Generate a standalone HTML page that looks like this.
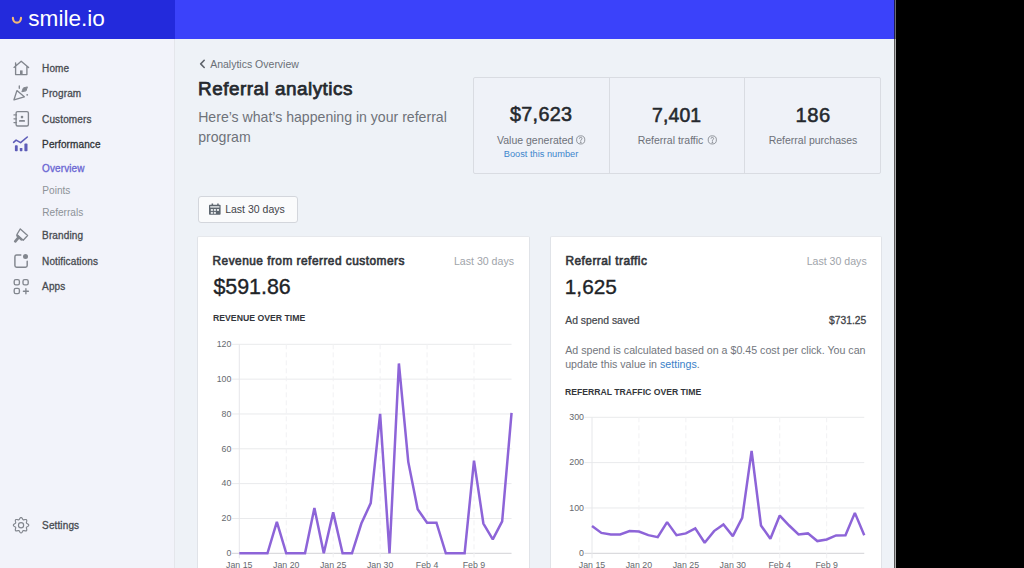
<!DOCTYPE html><html><head><meta charset="utf-8"><style>
html,body{margin:0;padding:0;}
body{width:1024px;height:568px;overflow:hidden;position:relative;background:#000;font-family:"Liberation Sans",sans-serif;}
.t{position:absolute;line-height:1;white-space:nowrap;}
.abs{position:absolute;}
</style></head><body>
<div class="abs" style="left:0;top:0;width:894px;height:568px;background:#eef2f7"></div>
<div class="abs" style="left:0;top:0;width:174px;height:568px;background:#f2f3fa;border-right:1px solid #e4e6eb"></div>
<div class="abs" style="left:0;top:0;width:175px;height:39px;background:#232adc"></div>
<div class="abs" style="left:175px;top:0;width:719px;height:39px;background:#3b42fa"></div>
<div class="abs" style="left:894px;top:0;width:1px;height:568px;background:#5a5a5a"></div><div class="abs" style="left:895px;top:0;width:1px;height:568px;background:#b0b0b0"></div><div class="abs" style="left:894px;top:0;width:1px;height:39px;background:#1c1c55"></div><div class="abs" style="left:895px;top:0;width:1px;height:39px;background:#6a6a6a"></div>
<svg class="abs" style="left:0;top:0" width="40" height="39"><path d="M12.9 17.9 A4.05 4.7 0 0 0 21 17.9" stroke="#f2b978" stroke-width="2.2" fill="none" stroke-linecap="round"/></svg>
<div class="t" style="top:8.07px;font-size:22.6px;color:#fff;font-weight:400;left:28.30px;">smile.io</div>
<div class="t" style="top:63.73px;font-size:10px;color:#484b51;font-weight:400;left:42.10px;letter-spacing:0.12px;-webkit-text-stroke:0.3px #484b51;">Home</div>
<div class="t" style="top:88.83px;font-size:10px;color:#484b51;font-weight:400;left:42.10px;letter-spacing:0.12px;-webkit-text-stroke:0.3px #484b51;">Program</div>
<div class="t" style="top:114.63px;font-size:10px;color:#484b51;font-weight:400;left:42.10px;letter-spacing:0.12px;-webkit-text-stroke:0.3px #484b51;">Customers</div>
<div class="t" style="top:140.23px;font-size:10px;color:#303338;font-weight:400;left:42.10px;letter-spacing:0.12px;-webkit-text-stroke:0.3px #303338;">Performance</div>
<div class="t" style="top:231.44px;font-size:10px;color:#484b51;font-weight:400;left:42.10px;letter-spacing:0.12px;-webkit-text-stroke:0.3px #484b51;">Branding</div>
<div class="t" style="top:256.83px;font-size:10px;color:#484b51;font-weight:400;left:42.10px;letter-spacing:0.12px;-webkit-text-stroke:0.3px #484b51;">Notifications</div>
<div class="t" style="top:282.13px;font-size:10px;color:#484b51;font-weight:400;left:42.10px;letter-spacing:0.12px;-webkit-text-stroke:0.3px #484b51;">Apps</div>
<div class="t" style="top:521.14px;font-size:10px;color:#484b51;font-weight:400;left:42.10px;letter-spacing:0.12px;-webkit-text-stroke:0.3px #484b51;">Settings</div>
<div class="t" style="top:163.94px;font-size:10px;color:#6a66d3;font-weight:400;left:42.10px;letter-spacing:0.1px;-webkit-text-stroke:0.3px #6a66d3;">Overview</div>
<div class="t" style="top:185.75px;font-size:10.1px;color:#8d9298;font-weight:400;left:42.30px;">Points</div>
<div class="t" style="top:207.85px;font-size:10.1px;color:#8d9298;font-weight:400;left:42.30px;">Referrals</div>
<svg class="abs" style="left:0;top:0" width="174" height="568" fill="none" stroke="#82868e" stroke-width="1.35" stroke-linejoin="round" stroke-linecap="round">
<path d="M14 67.4 L21.2 61.2 L28.6 67.6 M15.6 66.2 V74.6 H26.9 V66.2 M15.6 62.8 V65.6"/><rect x="20" y="70.4" width="2.6" height="4.4" fill="#82868e" stroke="none"/>
<path d="M14 99.8 L16.9 90.6 L24.3 96.8 Z"/><path d="M19.3 85.9 V88.3"/><path d="M22 91.4 L23.4 87.9 L27.4 86.9 L26.2 90.5 Z" fill="#82868e" stroke-width="1"/><circle cx="27.2" cy="94.8" r="0.9" fill="#82868e" stroke="none"/>
<rect x="16.1" y="111.6" width="12.3" height="14.4" rx="1.5"/><path d="M14 114.9 H16.4 M14 118.8 H16.4 M14 122.6 H16.4"/><circle cx="22" cy="117.1" r="1.3" fill="#82868e" stroke="none"/><path d="M19.8 120.9 H24.2" stroke-width="1.7"/>
<path d="M13.6 142.3 L16.1 140.1 L20.6 142.6 L27.3 137" stroke="#5e5cb8" stroke-width="1.6"/>
<rect x="14.9" y="145.3" width="2.8" height="6" rx="0.8" fill="#5e5cb8" stroke="none"/><rect x="19.8" y="148" width="2.6" height="3.2" rx="0.6" fill="#5e5cb8" stroke="none"/><rect x="24.4" y="143.6" width="3.1" height="7.6" rx="0.8" fill="#5e5cb8" stroke="none"/>
<path d="M20.3 228.9 L27.6 235.5 L23.2 240.2 L16.9 234.5 Z" stroke-width="1.3"/><path d="M17.2 235.8 L21.5 239.6" stroke-width="2.2"/><path d="M18 238.2 L15.3 241.3" stroke-width="2.8"/>
<path d="M20.8 255 H16.6 Q14.9 255 14.9 256.7 V265.6 Q14.9 267.3 16.6 267.3 H25.5 Q27.2 267.3 27.2 265.6 V261.2" stroke-width="1.45"/><circle cx="25.5" cy="256.6" r="2.5" fill="#82868e" stroke="none"/>
<rect x="14.2" y="279.6" width="5.2" height="5.2" rx="1.6"/><rect x="23" y="279.6" width="5.2" height="5.2" rx="1.6"/><rect x="14.2" y="288.4" width="5.2" height="5.2" rx="1.6"/><path d="M25.9 288.7 V293.7 M23.4 291.2 H28.4"/>
<path d="M21.05 517.50 L21.55 517.64 L21.99 518.04 L22.37 518.58 L22.67 519.14 L22.96 519.59 L23.27 519.84 L23.67 519.88 L24.19 519.77 L24.80 519.59 L25.45 519.47 L26.04 519.51 L26.49 519.76 L26.74 520.21 L26.78 520.80 L26.66 521.45 L26.48 522.06 L26.37 522.58 L26.41 522.98 L26.66 523.29 L27.11 523.58 L27.67 523.88 L28.21 524.26 L28.61 524.70 L28.75 525.20 L28.61 525.70 L28.21 526.14 L27.67 526.52 L27.11 526.82 L26.66 527.11 L26.41 527.42 L26.37 527.82 L26.48 528.34 L26.66 528.95 L26.78 529.60 L26.74 530.19 L26.49 530.64 L26.04 530.89 L25.45 530.93 L24.80 530.81 L24.19 530.63 L23.67 530.52 L23.27 530.56 L22.96 530.81 L22.67 531.26 L22.37 531.82 L21.99 532.36 L21.55 532.76 L21.05 532.90 L20.55 532.76 L20.11 532.36 L19.73 531.82 L19.43 531.26 L19.14 530.81 L18.83 530.56 L18.43 530.52 L17.91 530.63 L17.30 530.81 L16.65 530.93 L16.06 530.89 L15.61 530.64 L15.36 530.19 L15.32 529.60 L15.44 528.95 L15.62 528.34 L15.73 527.82 L15.69 527.42 L15.44 527.11 L14.99 526.82 L14.43 526.52 L13.89 526.14 L13.49 525.70 L13.35 525.20 L13.49 524.70 L13.89 524.26 L14.43 523.88 L14.99 523.58 L15.44 523.29 L15.69 522.98 L15.73 522.58 L15.62 522.06 L15.44 521.45 L15.32 520.80 L15.36 520.21 L15.61 519.76 L16.06 519.51 L16.65 519.47 L17.30 519.59 L17.91 519.77 L18.43 519.88 L18.83 519.84 L19.14 519.59 L19.43 519.14 L19.73 518.58 L20.11 518.04 L20.55 517.64 L21.05 517.50 Z" stroke-width="1.15"/><circle cx="21.05" cy="525.2" r="2.6" stroke-width="1.15"/>
</svg>
<svg class="abs" style="left:0;top:0" width="220" height="80"><path d="M204.2 60.3 L200.7 63.9 L204.2 67.5" stroke="#5f646c" stroke-width="1.6" fill="none" stroke-linecap="round" stroke-linejoin="round"/></svg>
<div class="t" style="top:59.01px;font-size:10.5px;color:#6a6f76;font-weight:400;left:210.20px;">Analytics Overview</div>
<div class="t" style="top:79.60px;font-size:18.9px;color:#25292e;font-weight:400;left:198.00px;-webkit-text-stroke:0.75px #25292e;letter-spacing:0.5px;">Referral analytics</div>
<div class="t" style="left:198.2px;top:106.8px;font-size:14.1px;line-height:20.5px;color:#6f737a;white-space:normal;width:270px">Here’s what’s happening in your referral program</div>
<div class="abs" style="left:473px;top:77px;width:406px;height:95px;border:1px solid #d9dce2;background:#eff2f8;border-radius:2px"></div>
<div class="abs" style="left:608.5px;top:78px;width:1px;height:95px;background:#d9dce2"></div>
<div class="abs" style="left:744px;top:78px;width:1px;height:95px;background:#d9dce2"></div>
<div class="t" style="top:105.44px;font-size:19.8px;color:#25292e;font-weight:400;left:341.15px;width:400px;text-align:center;-webkit-text-stroke:0.55px #25292e;letter-spacing:0.3px;">$7,623</div>
<div class="t" style="top:105.78px;font-size:19.4px;color:#25292e;font-weight:400;left:476.68px;width:400px;text-align:center;-webkit-text-stroke:0.55px #25292e;letter-spacing:0.15px;">7,401</div>
<div class="t" style="top:105.10px;font-size:20.2px;color:#25292e;font-weight:400;left:613.05px;width:400px;text-align:center;-webkit-text-stroke:0.55px #25292e;letter-spacing:0.5px;">186</div>
<div class="t" style="top:134.71px;font-size:10.5px;color:#6d7178;font-weight:400;left:335.20px;width:400px;text-align:center;">Value generated</div>
<div class="t" style="top:134.71px;font-size:10.5px;color:#6d7178;font-weight:400;left:470.50px;width:400px;text-align:center;">Referral traffic</div>
<div class="t" style="top:134.71px;font-size:10.5px;color:#6d7178;font-weight:400;left:613.00px;width:400px;text-align:center;">Referral purchases</div>
<svg class="abs" style="left:0;top:0" width="900" height="160" fill="none" stroke="#878b92" stroke-width="0.9"><circle cx="580.7" cy="139.9" r="4.1"/><circle cx="712.3" cy="139.9" r="4.1"/><path d="M579.4 138.7 Q579.4 137.4 580.7 137.4 Q582 137.4 582 138.6 Q582 139.5 580.8 140 V140.8 M711 138.7 Q711 137.4 712.3 137.4 Q713.6 137.4 713.6 138.6 Q713.6 139.5 712.4 140 V140.8"/><circle cx="580.8" cy="142.2" r="0.45" fill="#878b92"/><circle cx="712.4" cy="142.2" r="0.45" fill="#878b92"/></svg>
<div class="t" style="top:149.77px;font-size:9.25px;color:#3d85cc;font-weight:400;left:341.00px;width:400px;text-align:center;">Boost this number</div>
<div class="abs" style="left:198px;top:196px;width:98px;height:25px;border:1px solid #d3d6dc;background:#fafbfc;border-radius:3px"></div>
<svg class="abs" style="left:0;top:0" width="300" height="230"><rect x="209" y="204.7" width="11.6" height="10.1" rx="0.8" fill="#5e6770"/><rect x="211.6" y="203.5" width="1.5" height="1.8" fill="#5e6770"/><rect x="217.2" y="203.5" width="1.5" height="1.8" fill="#5e6770"/><g fill="#e6e9ec"><rect x="210.2" y="206.2" width="9.2" height="1.4"/><rect x="210.8" y="209" width="2.1" height="1.9"/><rect x="213.8" y="209" width="2.1" height="1.9"/><rect x="216.9" y="209" width="2.1" height="1.9"/><rect x="210.8" y="211.9" width="2.1" height="1.9"/><rect x="213.8" y="211.9" width="2.1" height="1.9"/></g></svg>
<div class="t" style="top:204.01px;font-size:10.5px;color:#3f4349;font-weight:400;left:225.20px;">Last 30 days</div>
<div class="abs" style="left:197px;top:236px;width:331px;height:340px;background:#fff;border:1px solid #e0e3e8;border-top-color:#e6e8ec;border-radius:2px"></div>
<div class="abs" style="left:550px;top:236px;width:330px;height:340px;background:#fff;border:1px solid #e0e3e8;border-top-color:#e6e8ec;border-radius:2px"></div>
<div class="t" style="top:255.53px;font-size:11.9px;color:#33363b;font-weight:400;left:212.50px;-webkit-text-stroke:0.62px #33363b;letter-spacing:0.47px;">Revenue from referred customers</div>
<div class="t" style="top:255.73px;font-size:10.6px;color:#a0a4aa;font-weight:400;right:510.00px;text-align:right;">Last 30 days</div>
<div class="t" style="top:277.08px;font-size:21.4px;color:#202327;font-weight:400;left:213.40px;-webkit-text-stroke:0.35px #202327;">$591.86</div>
<div class="t" style="top:313.36px;font-size:9.5px;color:#33363b;font-weight:700;left:212.60px;transform:scaleX(0.915);transform-origin:0 0;">REVENUE OVER TIME</div>
<div class="t" style="top:256.03px;font-size:11.9px;color:#33363b;font-weight:400;left:565.40px;-webkit-text-stroke:0.62px #33363b;letter-spacing:0.47px;">Referral traffic</div>
<div class="t" style="top:255.73px;font-size:10.6px;color:#a0a4aa;font-weight:400;right:157.30px;text-align:right;">Last 30 days</div>
<div class="t" style="top:276.69px;font-size:20.8px;color:#202327;font-weight:400;left:564.80px;-webkit-text-stroke:0.35px #202327;">1,625</div>
<div class="t" style="top:316.44px;font-size:10.35px;color:#43464b;font-weight:400;left:565.30px;-webkit-text-stroke:0.2px #43464b;">Ad spend saved</div>
<div class="t" style="top:316.28px;font-size:10.3px;color:#3f4348;font-weight:400;right:157.70px;text-align:right;-webkit-text-stroke:0.3px #3f4348;">$731.25</div>
<div class="t" style="left:565.2px;top:342.5px;font-size:10.66px;line-height:14.2px;color:#72767d;white-space:normal;width:310px">Ad spend is calculated based on a $0.45 cost per click. You can update this value in <span style="color:#3a7fc8">settings</span>.</div>
<div class="t" style="top:387.06px;font-size:9.5px;color:#33363b;font-weight:700;left:565.40px;transform:scaleX(0.91);transform-origin:0 0;">REFERRAL TRAFFIC OVER TIME</div>
<svg class="abs" style="left:0;top:0" width="894" height="568" fill="none"><path d="M231.80 553.30 H511.55" stroke="#d2d3d6" stroke-width="1"/><path d="M231.80 518.47 H511.55" stroke="#e9eaec" stroke-width="1"/><path d="M231.80 483.64 H511.55" stroke="#e9eaec" stroke-width="1"/><path d="M231.80 448.81 H511.55" stroke="#e9eaec" stroke-width="1"/><path d="M231.80 413.98 H511.55" stroke="#e9eaec" stroke-width="1"/><path d="M231.80 379.15 H511.55" stroke="#e9eaec" stroke-width="1"/><path d="M231.80 344.32 H511.55" stroke="#e9eaec" stroke-width="1"/><path d="M239.30 344.32 V558.30" stroke="#e6e7ea" stroke-width="1"/><path d="M286.24 344.32 V558.30" stroke="#f1f1f3" stroke-width="1" stroke-dasharray="5 3"/><path d="M333.18 344.32 V558.30" stroke="#f1f1f3" stroke-width="1" stroke-dasharray="5 3"/><path d="M380.12 344.32 V558.30" stroke="#f1f1f3" stroke-width="1" stroke-dasharray="5 3"/><path d="M427.06 344.32 V558.30" stroke="#f1f1f3" stroke-width="1" stroke-dasharray="5 3"/><path d="M474.00 344.32 V558.30" stroke="#f1f1f3" stroke-width="1" stroke-dasharray="5 3"/><path d="M239.30,553.30 L248.69,553.30 L258.08,553.30 L267.46,553.30 L276.85,521.95 L286.24,553.30 L295.63,553.30 L305.02,553.30 L314.40,508.02 L323.79,553.30 L333.18,512.37 L342.57,553.30 L351.96,553.30 L361.34,523.52 L370.73,503.14 L380.12,413.81 L389.51,553.30 L398.90,363.48 L408.28,461.87 L417.67,509.24 L427.06,522.65 L436.45,522.65 L445.84,553.30 L455.22,553.30 L464.61,553.30 L474.00,460.65 L483.39,523.52 L492.78,539.37 L502.16,521.43 L511.55,412.94" stroke="#8d64d8" stroke-width="2.5" fill="none" stroke-linejoin="miter" stroke-miterlimit="1.5" stroke-linecap="butt"/></svg>
<div class="t" style="top:549.05px;font-size:8.8px;color:#66696e;font-weight:400;right:792.70px;text-align:right;">0</div>
<div class="t" style="top:514.22px;font-size:8.8px;color:#66696e;font-weight:400;right:792.70px;text-align:right;">20</div>
<div class="t" style="top:479.39px;font-size:8.8px;color:#66696e;font-weight:400;right:792.70px;text-align:right;">40</div>
<div class="t" style="top:444.56px;font-size:8.8px;color:#66696e;font-weight:400;right:792.70px;text-align:right;">60</div>
<div class="t" style="top:409.73px;font-size:8.8px;color:#66696e;font-weight:400;right:792.70px;text-align:right;">80</div>
<div class="t" style="top:374.90px;font-size:8.8px;color:#66696e;font-weight:400;right:792.70px;text-align:right;">100</div>
<div class="t" style="top:340.07px;font-size:8.8px;color:#66696e;font-weight:400;right:792.70px;text-align:right;">120</div>
<div class="t" style="top:561.15px;font-size:8.8px;color:#66696e;font-weight:400;left:39.30px;width:400px;text-align:center;">Jan 15</div>
<div class="t" style="top:561.15px;font-size:8.8px;color:#66696e;font-weight:400;left:86.24px;width:400px;text-align:center;">Jan 20</div>
<div class="t" style="top:561.15px;font-size:8.8px;color:#66696e;font-weight:400;left:133.18px;width:400px;text-align:center;">Jan 25</div>
<div class="t" style="top:561.15px;font-size:8.8px;color:#66696e;font-weight:400;left:180.12px;width:400px;text-align:center;">Jan 30</div>
<div class="t" style="top:561.15px;font-size:8.8px;color:#66696e;font-weight:400;left:227.06px;width:400px;text-align:center;">Feb 4</div>
<div class="t" style="top:561.15px;font-size:8.8px;color:#66696e;font-weight:400;left:274.00px;width:400px;text-align:center;">Feb 9</div>
<svg class="abs" style="left:0;top:0" width="894" height="568" fill="none"><path d="M584.50 553.30 H864.25" stroke="#d2d3d6" stroke-width="1"/><path d="M584.50 507.97 H864.25" stroke="#e9eaec" stroke-width="1"/><path d="M584.50 462.63 H864.25" stroke="#e9eaec" stroke-width="1"/><path d="M584.50 417.30 H864.25" stroke="#e9eaec" stroke-width="1"/><path d="M592.00 417.30 V558.30" stroke="#e6e7ea" stroke-width="1"/><path d="M638.94 417.30 V558.30" stroke="#f1f1f3" stroke-width="1" stroke-dasharray="5 3"/><path d="M685.88 417.30 V558.30" stroke="#f1f1f3" stroke-width="1" stroke-dasharray="5 3"/><path d="M732.82 417.30 V558.30" stroke="#f1f1f3" stroke-width="1" stroke-dasharray="5 3"/><path d="M779.76 417.30 V558.30" stroke="#f1f1f3" stroke-width="1" stroke-dasharray="5 3"/><path d="M826.70 417.30 V558.30" stroke="#f1f1f3" stroke-width="1" stroke-dasharray="5 3"/><path d="M592.00,526.10 L601.39,532.90 L610.78,534.40 L620.16,534.40 L629.55,531.09 L638.94,531.54 L648.33,535.17 L657.72,537.12 L667.10,522.11 L676.49,535.17 L685.88,533.40 L695.27,528.41 L704.66,542.69 L714.04,531.09 L723.43,524.51 L732.82,536.12 L742.21,517.85 L751.60,450.85 L760.98,525.51 L770.37,538.70 L779.76,515.54 L789.15,525.51 L798.54,534.40 L807.92,533.40 L817.31,541.06 L826.70,539.43 L836.09,535.44 L845.48,535.17 L854.86,512.86 L864.25,535.17" stroke="#8d64d8" stroke-width="2.5" fill="none" stroke-linejoin="miter" stroke-miterlimit="1.5" stroke-linecap="butt"/></svg>
<div class="t" style="top:549.05px;font-size:8.8px;color:#66696e;font-weight:400;right:440.00px;text-align:right;">0</div>
<div class="t" style="top:503.72px;font-size:8.8px;color:#66696e;font-weight:400;right:440.00px;text-align:right;">100</div>
<div class="t" style="top:458.38px;font-size:8.8px;color:#66696e;font-weight:400;right:440.00px;text-align:right;">200</div>
<div class="t" style="top:413.05px;font-size:8.8px;color:#66696e;font-weight:400;right:440.00px;text-align:right;">300</div>
<div class="t" style="top:561.15px;font-size:8.8px;color:#66696e;font-weight:400;left:392.00px;width:400px;text-align:center;">Jan 15</div>
<div class="t" style="top:561.15px;font-size:8.8px;color:#66696e;font-weight:400;left:438.94px;width:400px;text-align:center;">Jan 20</div>
<div class="t" style="top:561.15px;font-size:8.8px;color:#66696e;font-weight:400;left:485.88px;width:400px;text-align:center;">Jan 25</div>
<div class="t" style="top:561.15px;font-size:8.8px;color:#66696e;font-weight:400;left:532.82px;width:400px;text-align:center;">Jan 30</div>
<div class="t" style="top:561.15px;font-size:8.8px;color:#66696e;font-weight:400;left:579.76px;width:400px;text-align:center;">Feb 4</div>
<div class="t" style="top:561.15px;font-size:8.8px;color:#66696e;font-weight:400;left:626.70px;width:400px;text-align:center;">Feb 9</div>
</body></html>
